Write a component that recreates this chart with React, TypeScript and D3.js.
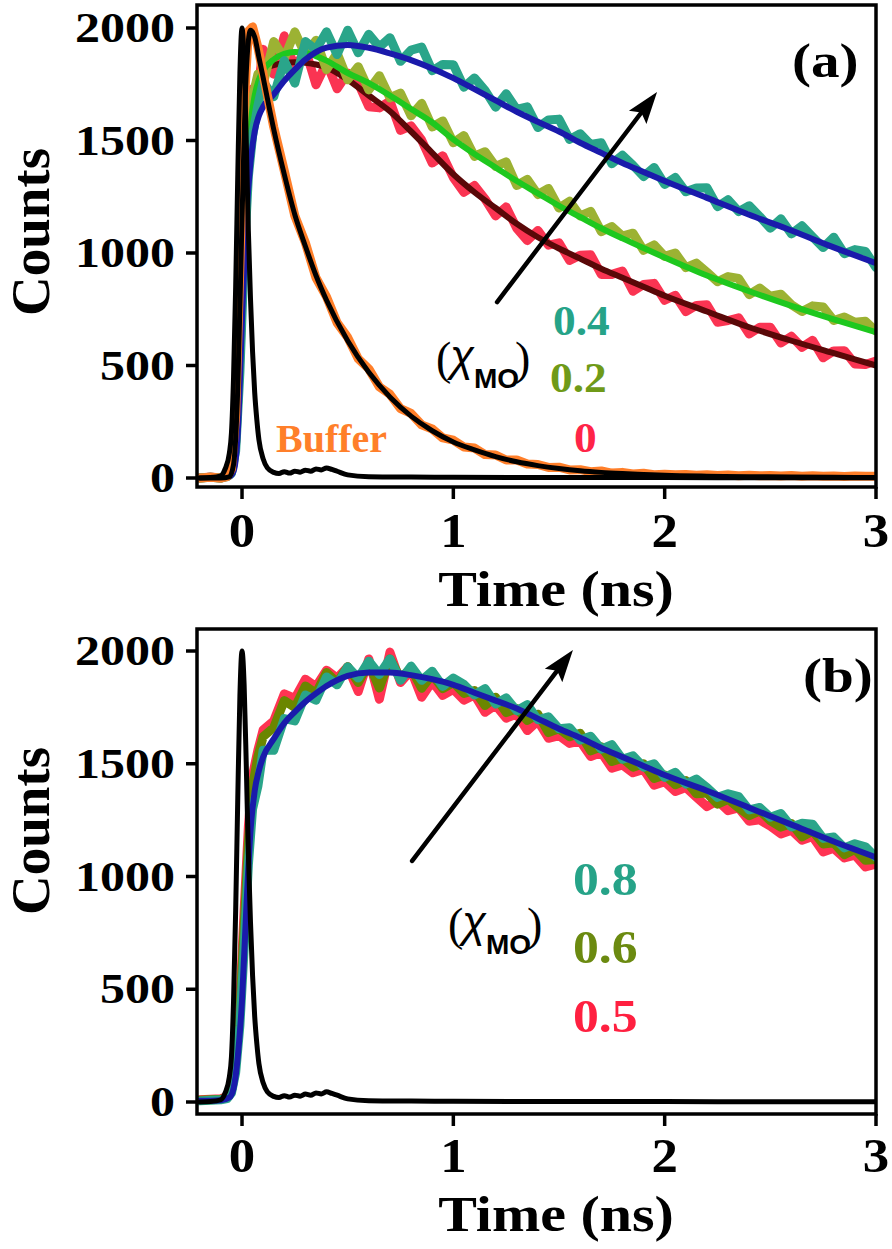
import React from 'react';
import * as d3 from 'd3';

// ---------- shared time grids (ns) ----------
const TIME = [
  -0.2, -0.15, -0.1, -0.07, -0.05, -0.03, -0.01, 0.01, 0.03, 0.05,
  0.075, 0.1, 0.15, 0.2, 0.25, 0.3, 0.35, 0.4, 0.45, 0.5,
  0.55, 0.6, 0.65, 0.7, 0.75, 0.8, 0.85, 0.9, 0.95, 1.0,
  1.05, 1.1, 1.15, 1.2, 1.25, 1.3, 1.35, 1.4, 1.45, 1.5,
  1.55, 1.6, 1.65, 1.7, 1.75, 1.8, 1.85, 1.9, 1.95, 2.0,
  2.05, 2.1, 2.15, 2.2, 2.25, 2.3, 2.35, 2.4, 2.45, 2.5,
  2.55, 2.6, 2.65, 2.7, 2.75, 2.8, 2.85, 2.9, 2.95, 3.0,
];

const FIT_T = [
  -0.2, -0.1, -0.06, -0.04, -0.02, 0, 0.02, 0.04, 0.06, 0.08,
  0.1, 0.15, 0.2, 0.25, 0.3, 0.35, 0.4, 0.5, 0.6, 0.7,
  0.8, 0.9, 1.0, 1.1, 1.2, 1.3, 1.4, 1.5, 1.6, 1.7,
  1.8, 1.9, 2.0, 2.2, 2.4, 2.6, 2.8, 3.0,
];

const IRF_T = [
  -0.2, -0.15, -0.1, -0.08, -0.06, -0.05, -0.04, -0.03, -0.02, -0.01,
  0, 0.01, 0.02, 0.03, 0.04, 0.05, 0.06, 0.07, 0.08, 0.1,
  0.12, 0.15, 0.175, 0.2, 0.225, 0.25, 0.275, 0.3, 0.325, 0.35,
  0.375, 0.4, 0.425, 0.45, 0.5, 0.6, 0.8, 1.0, 1.5, 2.0, 2.5, 3.0,
];

// instrument response (black)
const IRF = [
  0, 2, 10, 40, 110, 200, 450, 850, 1350, 1800,
  2000, 1850, 1500, 1100, 800, 560, 380, 260, 170, 85,
  45, 25, 20, 28, 22, 30, 26, 35, 30, 40,
  36, 45, 38, 30, 14, 6, 4, 3, 2, 2, 1, 1,
];

// ---------- panel (a) ----------
const BUFFER_DATA = [
  0, 3, 0, 6, 40, 280, 950, 1650, 1985, 2005,
  1915, 1795, 1560, 1365, 1165, 1045, 890, 805, 690, 625,
  530, 485, 405, 372, 308, 287, 236, 218, 178, 168,
  138, 133, 104, 102, 80, 80, 62, 60, 47, 48,
  36, 37, 28, 31, 22, 25, 18, 21, 15, 17,
  14, 16, 12, 14, 11, 13, 10, 12, 10, 11,
  9, 11, 8, 10, 8, 9, 7, 9, 8, 8,
];
const BUFFER_FIT = [
  0, 0, 5, 60, 400, 1150, 1800, 1990, 1960, 1870,
  1780, 1550, 1350, 1170, 1030, 900, 790, 610, 470, 360,
  275, 210, 160, 125, 95, 72, 55, 42, 32, 25,
  20, 16, 12, 8, 6, 4, 3, 2,
];

const A_DATA_0 = [
  0, 4, 0, 10, 35, 190, 620, 1150, 1540, 1730,
  1725, 1905, 1795, 1965, 1818, 1905, 1748, 1845, 1730, 1800,
  1755, 1650, 1645, 1675, 1545, 1565, 1502, 1400, 1432, 1335,
  1270, 1300, 1240, 1165, 1205, 1110, 1055, 1100, 1035, 1045,
  967, 990, 992, 905, 905, 920, 830, 860, 865, 790,
  812, 740, 767, 770, 692, 700, 712, 640, 670, 670,
  600, 630, 581, 612, 534, 565, 566, 507, 504, 520,
];
const A_DATA_02 = [
  0, 3, 0, 8, 25, 160, 540, 1060, 1470, 1690,
  1795, 1750, 1940, 1865, 1983, 1880, 1945, 1815, 1888, 1770,
  1828, 1725, 1788, 1690, 1710, 1610, 1665, 1560, 1587, 1490,
  1522, 1430, 1450, 1385, 1405, 1300, 1327, 1260, 1287, 1200,
  1230, 1165, 1185, 1095, 1118, 1075, 1088, 1012, 1036, 985,
  1000, 935, 955, 915, 872, 895, 887, 815, 844, 808,
  817, 770, 740, 765, 760, 700, 716, 692, 697, 653,
];
const A_DATA_04 = [
  0, 3, 0, 6, 20, 120, 470, 980, 1340, 1520,
  1655, 1760, 1695, 1855, 1755, 1940, 1903, 1983, 1882, 1990,
  1890, 1972, 1915, 1957, 1852, 1902, 1915, 1810, 1838, 1837,
  1737, 1778, 1723, 1648, 1708, 1638, 1650, 1558, 1591, 1595,
  1505, 1530, 1482, 1490, 1397, 1435, 1390, 1340, 1380, 1305,
  1336, 1272, 1289, 1290, 1206, 1237, 1184, 1210, 1162, 1110,
  1152, 1085, 1121, 1072, 1024, 1070, 997, 1015, 1007, 935,
];
const A_FIT_0 = [
  0, 0, 5, 50, 300, 850, 1350, 1640, 1750, 1795,
  1815, 1835, 1845, 1848, 1845, 1838, 1825, 1770, 1700, 1630,
  1540, 1445, 1350, 1270, 1200, 1130, 1070, 1020, 975, 930,
  890, 850, 810, 740, 670, 610, 555, 500,
];
const A_FIT_02 = [
  0, 0, 5, 40, 250, 750, 1250, 1560, 1700, 1770,
  1810, 1860, 1885, 1893, 1890, 1875, 1855, 1800, 1755, 1700,
  1640, 1580, 1505, 1440, 1380, 1320, 1265, 1210, 1160, 1110,
  1065, 1022, 980, 900, 830, 765, 705, 648,
];
const A_FIT_04 = [
  0, 0, 5, 30, 200, 700, 1150, 1400, 1540, 1610,
  1650, 1705, 1765, 1815, 1860, 1893, 1913, 1925, 1912, 1887,
  1857, 1820, 1777, 1728, 1678, 1628, 1583, 1540, 1490, 1445,
  1400, 1360, 1320, 1245, 1170, 1100, 1025, 955,
];

// ---------- panel (b) ----------
const B_DATA_05 = [
  10, 12, 15, 25, 60, 200, 450, 850, 1220, 1450,
  1560, 1650, 1690, 1810, 1790, 1875, 1842, 1915, 1880, 1930,
  1820, 1965, 1786, 1995, 1860, 1913, 1795, 1865, 1803, 1830,
  1782, 1805, 1728, 1760, 1702, 1720, 1647, 1690, 1613, 1625,
  1590, 1600, 1532, 1550, 1480, 1495, 1460, 1475, 1405, 1420,
  1377, 1395, 1352, 1310, 1336, 1292, 1304, 1245, 1251, 1223,
  1189, 1205, 1161, 1177, 1109, 1125, 1082, 1095, 1042, 1055,
];
const B_DATA_06 = [
  8, 10, 12, 20, 50, 170, 400, 780, 1150, 1400,
  1530, 1620, 1660, 1780, 1750, 1845, 1812, 1905, 1860, 1930,
  1860, 1945, 1836, 1965, 1880, 1923, 1835, 1895, 1833, 1860,
  1812, 1825, 1758, 1795, 1727, 1745, 1692, 1720, 1638, 1655,
  1620, 1635, 1557, 1575, 1510, 1525, 1485, 1500, 1435, 1450,
  1407, 1425, 1367, 1370, 1321, 1342, 1304, 1270, 1291, 1248,
  1219, 1235, 1176, 1202, 1144, 1150, 1097, 1120, 1072, 1075,
];
const B_DATA_08 = [
  5, 8, 10, 15, 40, 130, 340, 680, 1050, 1300,
  1400, 1560, 1560, 1700, 1690, 1805, 1782, 1885, 1850, 1930,
  1880, 1955, 1896, 1965, 1870, 1933, 1870, 1910, 1843, 1880,
  1852, 1805, 1833, 1765, 1792, 1735, 1762, 1695, 1708, 1655,
  1660, 1605, 1622, 1565, 1585, 1520, 1535, 1485, 1500, 1440,
  1462, 1410, 1432, 1395, 1351, 1367, 1354, 1295, 1306, 1263,
  1279, 1220, 1236, 1232, 1169, 1175, 1127, 1145, 1132, 1085,
];
const B_FIT_08 = [
  5, 8, 20, 60, 200, 450, 850, 1200, 1380, 1470,
  1530, 1610, 1680, 1730, 1775, 1812, 1845, 1890, 1905, 1905,
  1893, 1875, 1850, 1815, 1780, 1745, 1700, 1655, 1615, 1570,
  1530, 1490, 1450, 1380, 1305, 1230, 1155, 1085,
];

// ---------- axes ----------
const Y_TICKS = [0, 500, 1000, 1500, 2000];
const X_TICKS = [0, 1, 2, 3];
const X_DOMAIN = [-0.213, 3];

// arrows in data units: [t0, counts0, t1, counts1]
const ARROW_A = [1.207, 782, 1.964, 1716];
const ARROW_B = [0.805, 1069, 1.566, 2004];

const SERIF = '"Liberation Serif", "Times New Roman", Times, serif';
const SANS = '"Liberation Sans", Arial, Helvetica, sans-serif';

const x = d3.scaleLinear().domain(X_DOMAIN).range([197, 876]);

type LineSpec = { t: number[]; v: number[]; color: string; width: number; smooth?: boolean };

function Txt(props: {
  x: number; y: number; size: number; sx?: number; anchor?: string; fill?: string;
  weight?: string; family?: string; rotate?: number; italic?: boolean; children: React.ReactNode;
}) {
  const { x: tx, y: ty, size, sx = 1, anchor = 'start', fill = '#000', weight = 'bold', family = SERIF, rotate = 0, italic = false } = props;
  return (
    <text
      transform={`translate(${tx},${ty}) rotate(${rotate}) scale(${sx},1)`}
      textAnchor={anchor}
      fill={fill}
      style={{ fontFamily: family, fontSize: `${size}px`, fontWeight: weight as any, fontStyle: italic ? 'italic' : 'normal' }}
    >
      {props.children}
    </text>
  );
}

function Panel(props: {
  id: string; top: number; bottom: number; y0: number; y2000: number;
  lines: LineSpec[]; arrow: number[]; tickLabelY: number; titleY: number; countsY: number;
}) {
  const { id, top, bottom, y0, y2000, lines, arrow, tickLabelY, titleY, countsY } = props;
  const y = d3.scaleLinear().domain([0, 2000]).range([y0, y2000]);
  const left = 197, right = 876;

  const pathFor = (l: LineSpec) => {
    const gen = d3.line<number>()
      .x((_, i) => x(l.t[i]))
      .y((d) => y(d))
      .curve(l.smooth ? d3.curveMonotoneX : d3.curveLinear);
    return gen(l.v) || '';
  };

  // arrow geometry
  const p0 = [x(arrow[0]), y(arrow[1])];
  const p1 = [x(arrow[2]), y(arrow[3])];
  const dx = p1[0] - p0[0], dy = p1[1] - p0[1];
  const len = Math.hypot(dx, dy);
  const ux = dx / len, uy = dy / len;
  const headL = 32, headW = 11;
  const bx = p1[0] - ux * headL, by = p1[1] - uy * headL;
  const px = -uy, py = ux;
  const head = `${p1[0]},${p1[1]} ${bx + px * headW},${by + py * headW} ${bx + ux * 6},${by + uy * 6} ${bx - px * headW},${by - py * headW}`;

  return (
    <g>
      <defs>
        <clipPath id={`clip-${id}`}>
          <rect x={left} y={top} width={right - left} height={bottom - top} />
        </clipPath>
      </defs>
      <g clipPath={`url(#clip-${id})`}>
        {lines.map((l, i) => (
          <path key={i} d={pathFor(l)} fill="none" stroke={l.color} strokeWidth={l.width}
            strokeLinejoin="round" strokeLinecap="round" />
        ))}
      </g>
      {/* arrow */}
      <line x1={p0[0]} y1={p0[1]} x2={bx + ux * 8} y2={by + uy * 8} stroke="#000" strokeWidth={4.5} strokeLinecap="round" />
      <polygon points={head} fill="#000" />
      {/* frame */}
      <rect x={left} y={top} width={right - left} height={bottom - top} fill="none" stroke="#000" strokeWidth={3.5} />
      {/* y ticks */}
      {Y_TICKS.map((v) => (
        <g key={v}>
          <line x1={left - 11} x2={left} y1={y(v)} y2={y(v)} stroke="#000" strokeWidth={3.5} />
          <Txt x={175} y={y(v) + 14} size={42} sx={1.19} anchor="end">{v}</Txt>
        </g>
      ))}
      {/* x ticks */}
      {X_TICKS.map((v) => (
        <g key={v}>
          <line x1={x(v)} x2={x(v)} y1={bottom} y2={bottom + 12} stroke="#000" strokeWidth={3.5} />
          <Txt x={x(v)} y={tickLabelY} size={48} sx={1.1} anchor="middle">{v}</Txt>
        </g>
      ))}
      <Txt x={556} y={titleY} size={50} sx={1.16} anchor="middle">Time (ns)</Txt>
      <Txt x={49} y={countsY} size={55} anchor="middle" rotate={-90}>Counts</Txt>
    </g>
  );
}

function ChiLabel(props: { x: number; y: number }) {
  const { x: cx, y: cy } = props;
  return (
    <g>
      <Txt x={cx} y={cy} size={46} weight="normal">(</Txt>
      <Txt x={cx + 14} y={cy - 3} size={44} weight="normal" family={SANS} italic>χ</Txt>
      <Txt x={cx + 38} y={cy + 14} size={28} family={SANS}>MO</Txt>
      <Txt x={cx + 79} y={cy} size={46} weight="normal">)</Txt>
    </g>
  );
}

export default function App() {
  // draw order: each data set under its own fit line
  const linesA: LineSpec[] = [
    { t: TIME, v: A_DATA_0, color: '#fa3452', width: 9 },
    { t: FIT_T, v: A_FIT_0, color: '#5a0808', width: 6, smooth: true },
    { t: TIME, v: A_DATA_02, color: '#9cb233', width: 9 },
    { t: FIT_T, v: A_FIT_02, color: '#1ec81e', width: 6, smooth: true },
    { t: TIME, v: A_DATA_04, color: '#2aa58a', width: 9 },
    { t: FIT_T, v: A_FIT_04, color: '#1a1aab', width: 6, smooth: true },
    { t: TIME, v: BUFFER_DATA, color: '#ff7f2a', width: 9 },
    { t: FIT_T, v: BUFFER_FIT, color: '#000', width: 5, smooth: true },
    { t: IRF_T, v: IRF, color: '#000', width: 5, smooth: true },
  ];
  const linesB: LineSpec[] = [
    { t: TIME, v: B_DATA_05, color: '#ff3352', width: 9 },
    { t: TIME, v: B_DATA_06, color: '#6b8600', width: 9 },
    { t: TIME, v: B_DATA_08, color: '#2aa58a', width: 9 },
    { t: FIT_T, v: B_FIT_08, color: '#1a1aab', width: 6, smooth: true },
    { t: IRF_T, v: IRF, color: '#000', width: 5, smooth: true },
  ];

  return (
    <svg width={892} height={1249} style={{ position: 'absolute', left: 0, top: 0, background: '#fff' }}>
      <rect x={0} y={0} width={892} height={1249} fill="#fff" />
      <Panel id="a" top={5} bottom={487} y0={478} y2000={28} lines={linesA} arrow={ARROW_A}
        tickLabelY={547} titleY={606} countsY={232} />
      <Panel id="b" top={629} bottom={1114} y0={1102} y2000={651} lines={linesB} arrow={ARROW_B}
        tickLabelY={1172} titleY={1231} countsY={831} />

      {/* panel (a) annotations */}
      <Txt x={792} y={77} size={48} sx={1.19}>(a)</Txt>
      <Txt x={276} y={452} size={40} fill="#ff7f2a">Buffer</Txt>
      <Txt x={553} y={335} size={42} sx={1.08} fill="#26a388">0.4</Txt>
      <Txt x={550} y={392} size={42} sx={1.08} fill="#6f9a18">0.2</Txt>
      <Txt x={574} y={452} size={42} sx={1.08} fill="#ff2448">0</Txt>
      <ChiLabel x={436} y={374} />

      {/* panel (b) annotations */}
      <Txt x={803} y={692} size={48} sx={1.19}>(b)</Txt>
      <Txt x={573} y={895} size={47} sx={1.1} fill="#26a388">0.8</Txt>
      <Txt x={573} y={963} size={47} sx={1.1} fill="#6b8a10">0.6</Txt>
      <Txt x={573} y={1032} size={47} sx={1.1} fill="#ff2040">0.5</Txt>
      <ChiLabel x={448} y={940} />
    </svg>
  );
}
